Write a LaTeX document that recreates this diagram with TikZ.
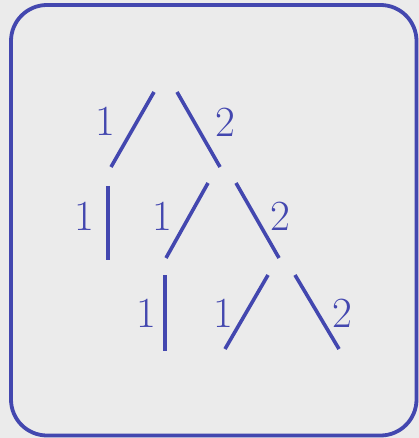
\documentclass[tikz,border=0pt]{standalone}
\definecolor{tblue}{RGB}{67,71,175}
\definecolor{tbg}{RGB}{235,235,235}
\begin{document}
\begin{tikzpicture}[x=1pt,y=-1pt,
  edge/.style={draw=tblue,line width=3.6pt},
  lbl/.style={text=tblue,font=\fontsize{43}{43}\selectfont,inner sep=0pt,anchor=center}]
\fill[tbg] (0,0) rectangle (419,438);
\useasboundingbox (0,0) rectangle (419,438);
\draw[tblue,line width=3.8pt,rounded corners=36pt] (11,5) rectangle (416.5,435.5);
% endpoints
\coordinate (a1) at (154,92);  \coordinate (a2) at (111,167);
\coordinate (b1) at (177,92);  \coordinate (b2) at (220,167);
\coordinate (c1) at (108,186); \coordinate (c2) at (108,260);
\coordinate (d1) at (208,183); \coordinate (d2) at (166,258);
\coordinate (e1) at (236,183); \coordinate (e2) at (279,258);
\coordinate (f1) at (165,275); \coordinate (f2) at (165,351);
\coordinate (g1) at (268,275); \coordinate (g2) at (225,349);
\coordinate (h1) at (295,275); \coordinate (h2) at (339,349);
\draw[edge] (a1) -- (a2);
\draw[edge] (b1) -- (b2);
\draw[edge] (c1) -- (c2);
\draw[edge] (d1) -- (d2);
\draw[edge] (e1) -- (e2);
\draw[edge] (f1) -- (f2);
\draw[edge] (g1) -- (g2);
\draw[edge] (h1) -- (h2);
% labels
\node[lbl] (la) at (105,121) {1};
\node[lbl] (lb) at (225,122) {2};
\node[lbl] (lc) at (84,216) {1};
\node[lbl] (ld) at (162,216) {1};
\node[lbl] (le) at (280,216) {2};
\node[lbl] (lf) at (146,313) {1};
\node[lbl] (lg) at (223,313) {1};
\node[lbl] (lh) at (342,313) {2};
\end{tikzpicture}
\end{document}
